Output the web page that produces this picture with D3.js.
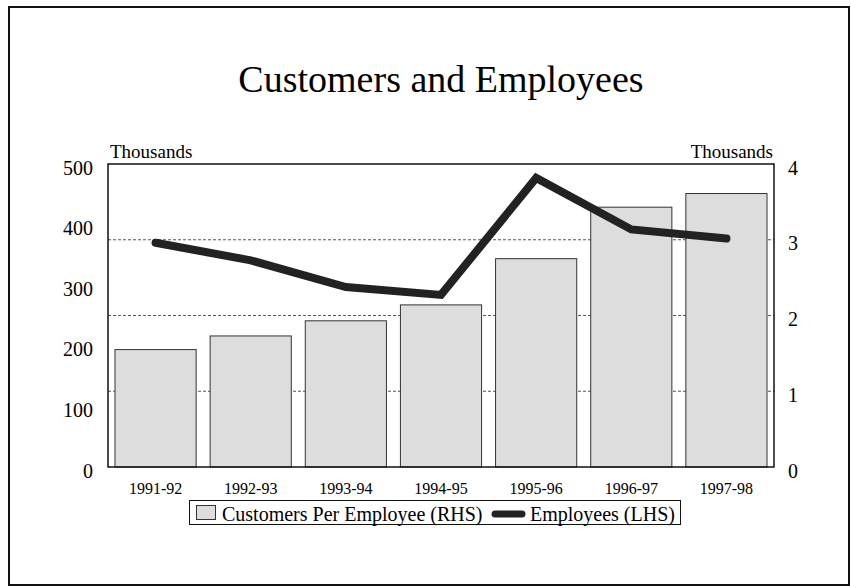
<!DOCTYPE html>
<html>
<head>
<meta charset="utf-8">
<script src="https://cdn.jsdelivr.net/npm/d3@7"></script>
<style>
  html, body { margin: 0; padding: 0; background: #fff; }
  svg { display: block; font-family: "Liberation Serif", "Times New Roman", serif; }
</style>
</head>
<body>
<svg id="chart" width="851" height="586"></svg>
<script>
// Financial years shown along the bottom
const categories = ["1991-92", "1992-93", "1993-94", "1994-95", "1995-96", "1996-97", "1997-98"];
// Customers per employee, thousands (right-hand scale)
const customersPerEmployee = [1.55, 1.73, 1.93, 2.14, 2.75, 3.43, 3.61];
// Employees, thousands (left-hand scale)
const employees = [370, 341, 297, 284, 477, 392, 377];
// Axis ticks
const leftTicks = [0, 100, 200, 300, 400, 500];
const rightTicks = [0, 1, 2, 3, 4];
const gridTicks = [1, 2, 3];

const svg = d3.select("#chart");
const plot = { left: 108, right: 774, top: 164, bottom: 467 };

// Outer frame
svg.append("rect")
  .attr("x", 9).attr("y", 7).attr("width", 840).attr("height", 578)
  .attr("fill", "#fff").attr("stroke", "#111").attr("stroke-width", 2);

// Title
svg.append("text")
  .attr("x", (plot.left + plot.right) / 2).attr("y", 92)
  .attr("text-anchor", "middle").attr("font-size", 38).attr("fill", "#000")
  .text("Customers and Employees");

const x = d3.scaleBand().domain(categories)
  .range([plot.left, plot.right]).paddingInner(0.147).paddingOuter(0.0735);
const yL = d3.scaleLinear().domain([0, 500]).range([plot.bottom, plot.top]);
const yR = d3.scaleLinear().domain([0, 4]).range([plot.bottom, plot.top]);

// Dashed gridlines on the right-hand scale
svg.append("g").selectAll("line").data(gridTicks).join("line")
  .attr("x1", plot.left).attr("x2", plot.right)
  .attr("y1", d => yR(d)).attr("y2", d => yR(d))
  .attr("stroke", "#555").attr("stroke-width", 1).attr("stroke-dasharray", "3,2");

// Bars: customers per employee
svg.append("g").selectAll("rect").data(categories).join("rect")
  .attr("x", d => x(d)).attr("width", x.bandwidth())
  .attr("y", (d, i) => yR(customersPerEmployee[i]))
  .attr("height", (d, i) => yR(0) - yR(customersPerEmployee[i]))
  .attr("fill", "#dddddd").attr("stroke", "#333").attr("stroke-width", 1);

// Plot frame
svg.append("rect")
  .attr("x", plot.left).attr("y", plot.top)
  .attr("width", plot.right - plot.left).attr("height", plot.bottom - plot.top)
  .attr("fill", "none").attr("stroke", "#111").attr("stroke-width", 1.5);

// Line: employees
const line = d3.line()
  .x((d, i) => x(categories[i]) + x.bandwidth() / 2)
  .y(d => yL(d));
svg.append("path").datum(employees)
  .attr("d", line).attr("fill", "none")
  .attr("stroke", "#222").attr("stroke-width", 8)
  .attr("stroke-linecap", "round").attr("stroke-linejoin", "miter");

// Left axis
const gL = svg.append("g").attr("transform", `translate(${plot.left},0)`)
  .call(d3.axisLeft(yL).tickValues(leftTicks).tickSize(0).tickPadding(15));
gL.select(".domain").remove();
gL.selectAll("text").attr("font-size", 20).attr("font-family", "Liberation Serif")
  .attr("fill", "#000").attr("dy", "0.5em");

// Right axis
const gR = svg.append("g").attr("transform", `translate(${plot.right},0)`)
  .call(d3.axisRight(yR).tickValues(rightTicks).tickFormat(d3.format("d"))
    .tickSize(0).tickPadding(14));
gR.select(".domain").remove();
gR.selectAll("text").attr("font-size", 20).attr("font-family", "Liberation Serif")
  .attr("fill", "#000").attr("dy", "0.5em");

// Bottom axis
const gB = svg.append("g").attr("transform", `translate(0,${plot.bottom})`)
  .call(d3.axisBottom(x).tickSize(0));
gB.select(".domain").remove();
gB.selectAll("text").attr("font-size", 16).attr("font-family", "Liberation Serif")
  .attr("fill", "#000").attr("y", 27).attr("dy", 0);

// Units
svg.append("text").attr("x", 110).attr("y", 158).attr("font-size", 19).text("Thousands");
svg.append("text").attr("x", 773).attr("y", 158).attr("font-size", 19)
  .attr("text-anchor", "end").text("Thousands");

// Legend
const lg = svg.append("g");
lg.append("rect").attr("x", 189.5).attr("y", 500.5).attr("width", 491).attr("height", 24)
  .attr("fill", "#fff").attr("stroke", "#111").attr("stroke-width", 1);
lg.append("rect").attr("x", 196.5).attr("y", 505.5).attr("width", 19).attr("height", 14)
  .attr("fill", "#dddddd").attr("stroke", "#333").attr("stroke-width", 1);
lg.append("text").attr("x", 222).attr("y", 521).attr("font-size", 20)
  .text("Customers Per Employee (RHS)");
lg.append("line").attr("x1", 495).attr("x2", 522).attr("y1", 514).attr("y2", 514)
  .attr("stroke", "#222").attr("stroke-width", 7).attr("stroke-linecap", "round");
lg.append("text").attr("x", 530).attr("y", 521).attr("font-size", 20)
  .text("Employees (LHS)");
</script>
</body>
</html>
